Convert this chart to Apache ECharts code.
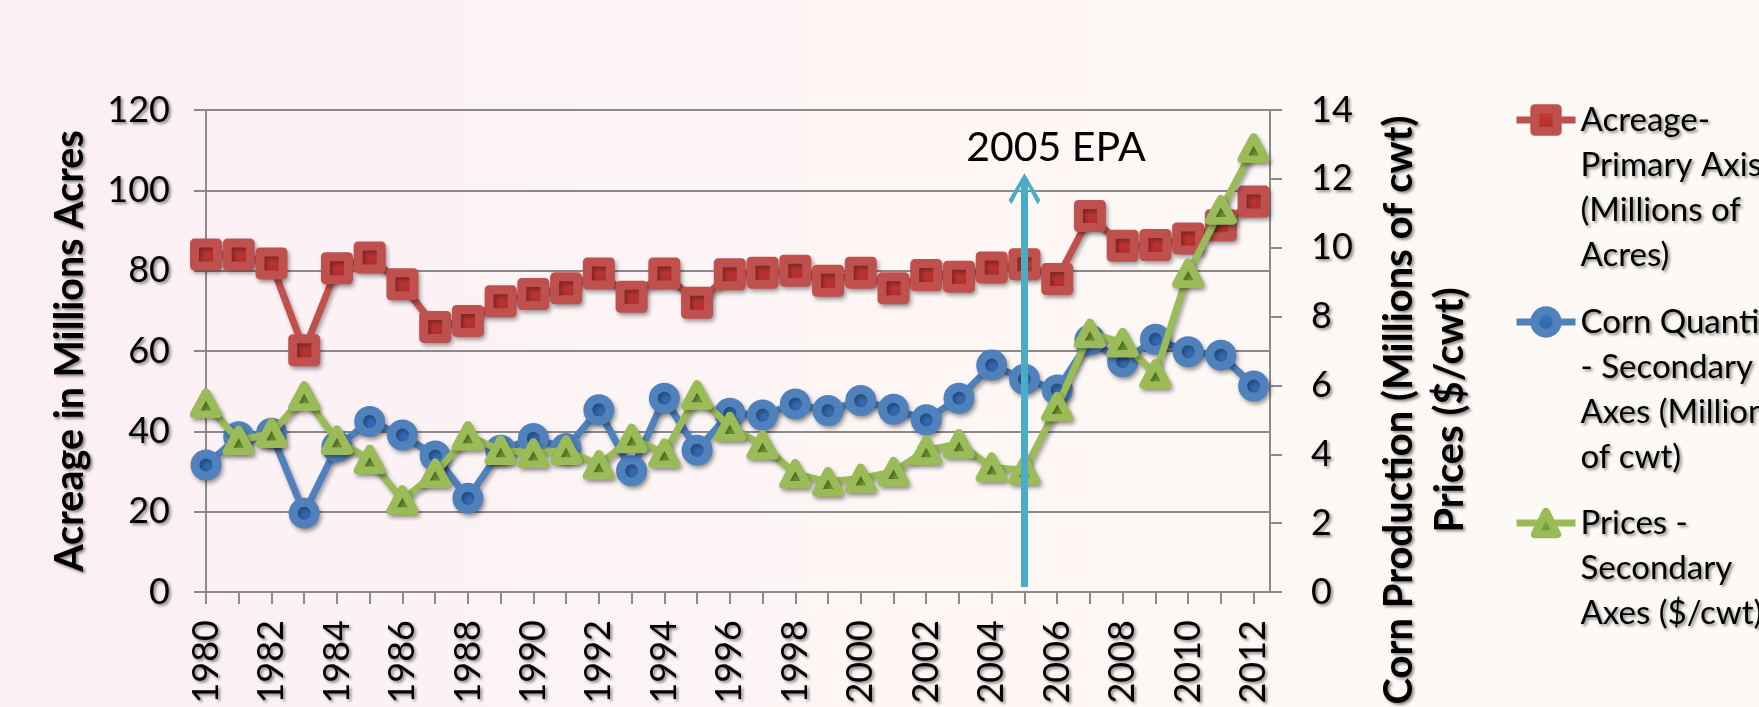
<!DOCTYPE html>
<html>
<head>
<meta charset="utf-8">
<script src="https://cdn.jsdelivr.net/npm/echarts@6/dist/echarts.min.js"></script>
<style>
  html, body { margin: 0; padding: 0; }
  #chart { width: 1759px; height: 707px; }
</style>
</head>
<body>
<div id="chart"></div>
<script>
// Corn acreage, production and prices, 1980-2012
const years = [1980, 1981, 1982, 1983, 1984, 1985, 1986, 1987, 1988, 1989, 1990,
  1991, 1992, 1993, 1994, 1995, 1996, 1997, 1998, 1999, 2000, 2001,
  2002, 2003, 2004, 2005, 2006, 2007, 2008, 2009, 2010, 2011, 2012];

// Millions of acres (primary axis)
const acreage = [84.0, 84.0, 81.8, 60.2, 80.6, 83.3, 76.6, 66.0, 67.5, 72.4, 74.2,
  75.6, 79.3, 73.5, 79.3, 72.0, 79.1, 79.5, 80.0, 77.5, 79.5, 75.6,
  78.9, 78.5, 80.8, 81.6, 77.9, 93.6, 86.2, 86.4, 88.0, 91.3, 97.2];

// Millions of cwt (secondary axis)
const cornQuantity = [3.69, 4.51, 4.61, 2.29, 4.22, 4.95, 4.56, 3.95, 2.72, 4.12, 4.46,
  4.17, 5.29, 3.52, 5.63, 4.12, 5.19, 5.14, 5.46, 5.27, 5.56, 5.31,
  5.00, 5.63, 6.59, 6.18, 5.87, 7.32, 6.69, 7.34, 6.98, 6.88, 5.98];

// $/cwt (secondary axis)
const prices = [5.48, 4.40, 4.61, 5.69, 4.41, 3.85, 2.67, 3.45, 4.53, 4.12, 4.03,
  4.12, 3.69, 4.46, 4.03, 5.72, 4.80, 4.27, 3.43, 3.20, 3.30, 3.49,
  4.12, 4.30, 3.62, 3.54, 5.38, 7.51, 7.24, 6.33, 9.26, 11.10, 12.89];

const seriesNames = ['Acreage', 'Corn Quantity', 'Prices'];
const legendText = [
  'Acreage-\nPrimary Axis\n(Millions of\nAcres)',
  'Corn Quantity\n- Secondary\nAxes (Millions\nof cwt)',
  'Prices -\nSecondary\nAxes ($/cwt)'
];
const leftAxisTitle = 'Acreage in Millions Acres';
const rightAxisTitle = 'Corn Production (Millions of cwt)\nPrices ($/cwt)';
const leftAxisRange = [0, 120, 20];
const rightAxisRange = [0, 14, 2];

// The 2005 EPA marker (year, start and end on the acreage axis)
const epaYear = 2005;
const epaSpan = [1.25, 100.3];
const epaLabel = '2005 EPA';

const FONT = 'Lato';
const shadowText = {
  textShadowColor: 'rgba(0,0,0,0.45)',
  textShadowBlur: 3,
  textShadowOffsetX: 2,
  textShadowOffsetY: 2
};
const markShadow = {
  shadowColor: 'rgba(0,0,0,0.35)',
  shadowBlur: 4,
  shadowOffsetX: 2,
  shadowOffsetY: 3
};
const vgrad = (a, b) => ({ type: 'linear', x: 0, y: 0, x2: 0, y2: 1,
  colorStops: [{ offset: 0, color: a }, { offset: 1, color: b }] });

const styles = [
  { line: '#C0504D', fill: vgrad('#D03E3A', '#A52B28'), symbol: 'rect', size: 23, border: 9 },
  { line: '#4F81BD', fill: vgrad('#3F7CC8', '#2A5C9E'), symbol: 'circle', size: 22, border: 9 },
  { line: '#9BBB59', fill: vgrad('#86AC3F', '#6E9530'), symbol: 'triangle', size: [24, 22], border: 8 }
];
const values = [acreage, cornQuantity, prices];

const axisGray = '#8A8A8A';
const chevron = 'path://M16,0 L32,27 L29,31 L19.5,13 L19.5,32 L12.5,32 L12.5,13 L3,31 L0,27 Z';

const chart = echarts.init(document.getElementById('chart'), null, { renderer: 'canvas' });

const series = values.map((vals, i) => {
  const s = styles[i];
  const item = {
    name: seriesNames[i],
    type: 'line',
    yAxisIndex: i === 0 ? 0 : 1,
    data: years.map((y, k) => [y, vals[k]]),
    symbol: s.symbol,
    symbolSize: s.size,
    showAllSymbol: true,
    lineStyle: Object.assign({ color: s.line, width: 7, join: 'round' }, markShadow),
    itemStyle: Object.assign({ color: s.fill, borderColor: s.line, borderWidth: s.border, borderJoin: 'round' }, markShadow),
    emphasis: { disabled: true },
    z: 2 + i
  };
  if (i === 0) {
    item.markLine = {
      silent: true,
      symbol: ['none', chevron],
      symbolSize: [32, 32],
      label: { show: false },
      lineStyle: { color: '#4BACC6', width: 7, type: 'solid', shadowBlur: 0 },
      itemStyle: { color: '#4BACC6' },
      emphasis: { disabled: true },
      z: 10,
      data: [[{ coord: [epaYear, epaSpan[0]] }, { coord: [epaYear, epaSpan[1]] }]]
    };
  }
  return item;
});

// Each legend entry keeps its icon beside the first text line: blank lines
// are put in front so the vertically centred block starts at the icon.
const LEGEND_LH = 45;
const legendIconY = [120, 322, 523];
const legends = seriesNames.map((name, i) => {
  const lines = legendText[i].split('\n').length;
  const padded = '\n'.repeat(lines - 1) + legendText[i];
  const blockH = (2 * lines - 1) * LEGEND_LH;
  return {
    data: [name],
    orient: 'vertical',
    left: 1513,
    top: legendIconY[i] - blockH / 2,
    padding: 0,
    itemWidth: 59,
    itemHeight: 28,
    selectedMode: false,
    formatter: () => padded,
    itemStyle: { borderWidth: styles[i].border },
    lineStyle: { width: 7 },
    textStyle: Object.assign({
      fontFamily: FONT, fontSize: 33, lineHeight: LEGEND_LH, color: '#000'
    }, shadowText)
  };
});

const labelStyle = Object.assign({ fontFamily: FONT, fontSize: 36, color: '#000' }, shadowText);

chart.setOption({
  animation: false,
  backgroundColor: {
    type: 'linear', x: 0, y: 0, x2: 1, y2: 0,
    colorStops: [
      { offset: 0, color: '#FCEFF5' },
      { offset: 0.5, color: '#FDF6F5' },
      { offset: 1, color: '#FDFAF6' }
    ]
  },
  grid: { left: 206, right: 489, top: 110, bottom: 115, containLabel: false },
  legend: legends,
  xAxis: {
    type: 'value',
    min: years[0],
    max: years[years.length - 1] + 0.5,
    interval: 1,
    splitLine: { show: false },
    axisLine: { show: true, lineStyle: { color: axisGray, width: 2 } },
    axisTick: { show: true, length: 12, lineStyle: { color: axisGray, width: 2 } },
    axisLabel: Object.assign({
      rotate: 90,
      margin: 28,
      showMaxLabel: false,
      formatter: v => (Number.isInteger(v) && v % 2 === 0) ? String(v) : ''
    }, labelStyle)
  },
  yAxis: [
    {
      type: 'value',
      position: 'left',
      min: leftAxisRange[0], max: leftAxisRange[1], interval: leftAxisRange[2],
      axisLine: { show: true, lineStyle: { color: axisGray, width: 2 } },
      axisTick: { show: true, length: 12, lineStyle: { color: axisGray, width: 2 } },
      splitLine: { show: true, lineStyle: { color: axisGray, width: 2 } },
      axisLabel: Object.assign({ margin: 36 }, labelStyle)
    },
    {
      type: 'value',
      position: 'right',
      min: rightAxisRange[0], max: rightAxisRange[1], interval: rightAxisRange[2],
      axisLine: { show: true, lineStyle: { color: axisGray, width: 2 } },
      axisTick: { show: true, length: 12, lineStyle: { color: axisGray, width: 2 } },
      splitLine: { show: false },
      axisLabel: Object.assign({ margin: 41 }, labelStyle)
    }
  ],
  graphic: [
    {
      type: 'text', x: 70, y: 351, rotation: Math.PI / 2, silent: true,
      style: Object.assign({
        text: leftAxisTitle, fontFamily: FONT, fontWeight: 'bold', fontSize: 39.5, fill: '#000',
        align: 'center', verticalAlign: 'middle', textAlign: 'center', textVerticalAlign: 'middle'
      }, shadowText)
    },
    {
      type: 'text', x: 1425, y: 410, rotation: Math.PI / 2, silent: true,
      style: Object.assign({
        text: rightAxisTitle, fontFamily: FONT, fontWeight: 'bold', fontSize: 40, lineHeight: 51, fill: '#000',
        align: 'center', verticalAlign: 'middle', textAlign: 'center', textVerticalAlign: 'middle'
      }, shadowText)
    },
    {
      type: 'text', x: 1056, y: 148, silent: true,
      style: {
        text: epaLabel, fontFamily: FONT, fontSize: 41, fill: '#000',
        align: 'center', verticalAlign: 'middle', textAlign: 'center', textVerticalAlign: 'middle'
      }
    }
  ],
  series: series
});
</script>
</body>
</html>
